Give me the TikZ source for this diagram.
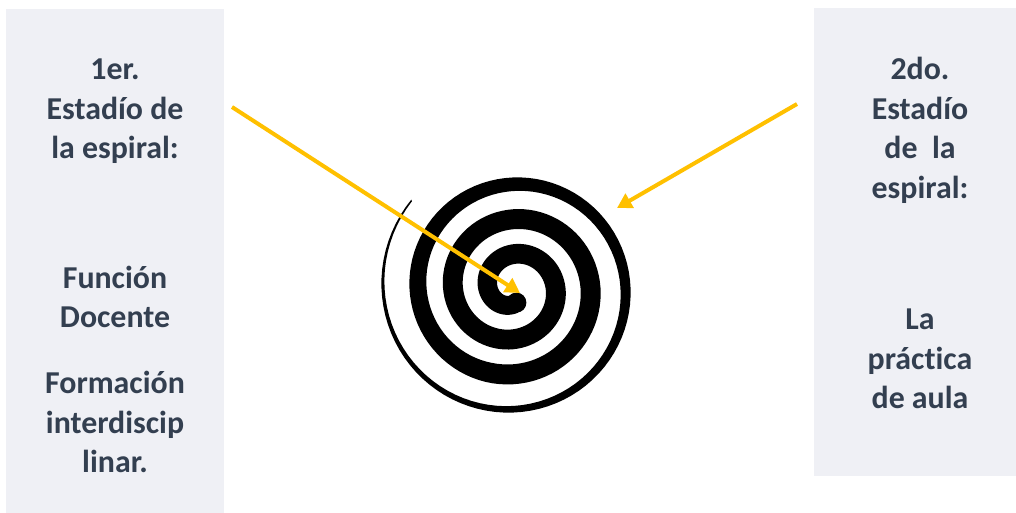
\documentclass[tikz,border=0pt]{standalone}
\usepackage{fontspec}
\setmainfont[Ligatures=NoCommon]{Carlito}
\usepackage{tikz}
\usetikzlibrary{positioning,arrows.meta}
\definecolor{panelgray}{RGB}{239,240,245}
\definecolor{textslate}{RGB}{51,63,80}
\definecolor{gold}{RGB}{255,192,0}
\tikzset{
  panel/.style ={fill=panelgray, draw=none, rectangle, inner sep=0pt, anchor=north west},
  lbl/.style   ={align=center, inner sep=0pt, anchor=north, text=textslate, font=\fontsize{23.9}{29.6}\selectfont\bfseries},
  arr/.style   ={-{Triangle[length=11pt, width=12pt]}, line width=3pt, draw=gold},
}

\begin{document}
\begin{tikzpicture}[x=0.75pt, y=-0.75pt]
  \useasboundingbox (0,0) rectangle (1016,512);

  \node[panel, minimum width=163.5pt, minimum height=380pt] (leftpanel)  at (6,9) {};
  \node[panel, minimum width=155pt,   minimum height=351pt] (rightpanel) at (814,8) {};

  \node[lbl] (lefthead)  at (115,59) {1er.\\Estadío de\\la espiral:};
  \node[lbl] (leftrole)  at (115,265.5)  {Función\\Docente};
  \node[lbl] (lefttrain) at (115,371)  {Formación\\interdiscip\\linar.};
  \node[lbl] (righthead) at (920,57) {2do.\\Estadío\\de\ \ la\\espiral:};
  \node[lbl] (rightbody) at (920,309) {La\\práctica\\de aula};

  % spiral
  \begin{scope}[shift={(513,288)}, yscale=-1]
    \fill[black]
      plot[domain=0:3.4, samples=300, variable=\t]
        ({(134-35*\t+min(1.5+14*\t,20)/2)*cos(139+360*\t)}, {(134-35*\t+min(1.5+14*\t,20)/2)*sin(139+360*\t)})
      -- plot[domain=3.4:0, samples=300, variable=\t]
        ({(134-35*\t-min(1.5+14*\t,20)/2)*cos(139+360*\t)}, {(134-35*\t-min(1.5+14*\t,20)/2)*sin(139+360*\t)})
      -- cycle;
    \fill[black] (283:15) circle[radius=10];
  \end{scope}

  \coordinate (startA) at (232,107);
  \coordinate (tipA)   at (520,293);
  \coordinate (startB) at (797,104);
  \coordinate (tipB)   at (617,208);

  \draw[arr] (startA) -- (tipA);
  \draw[arr] (startB) -- (tipB);
\end{tikzpicture}
\end{document}
